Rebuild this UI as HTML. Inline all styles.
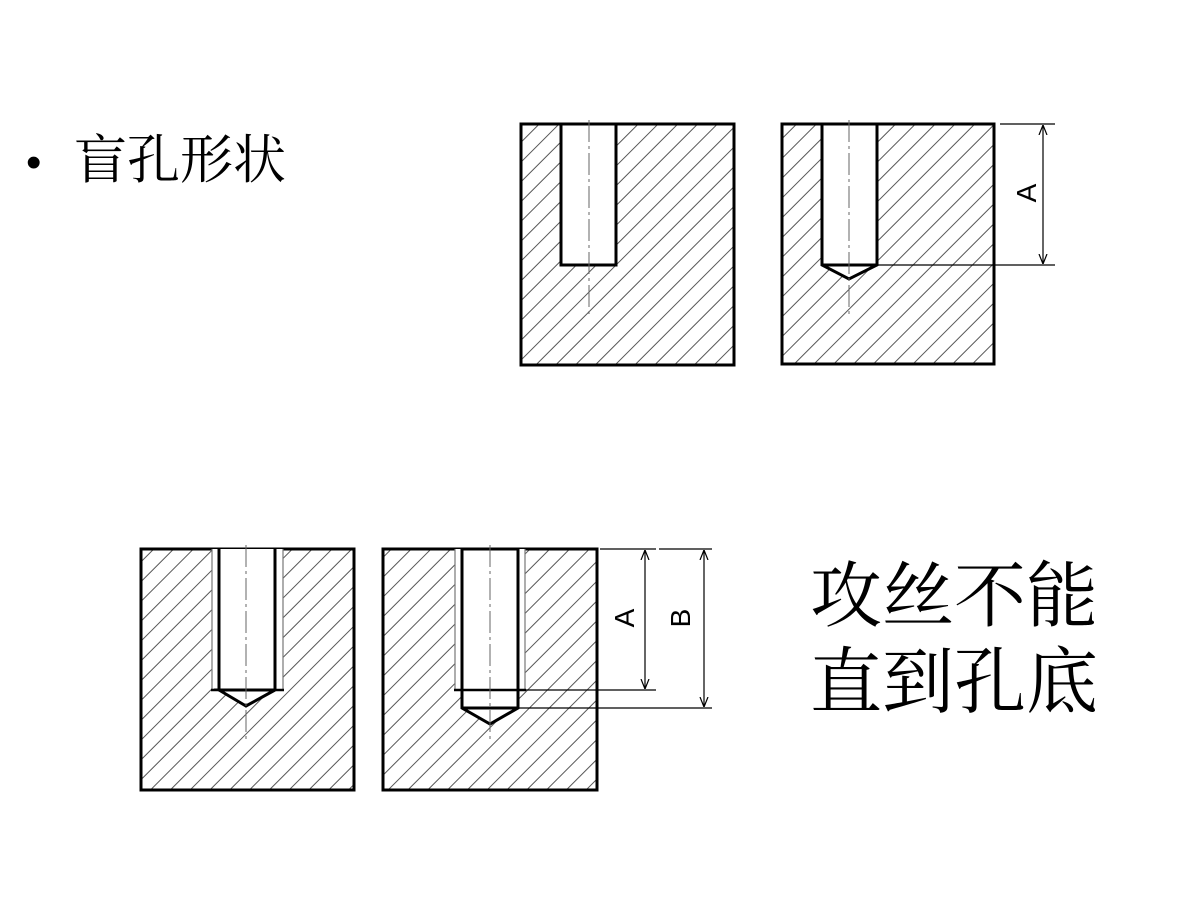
<!DOCTYPE html>
<html><head><meta charset="utf-8"><style>html,body{margin:0;padding:0;background:#fff}svg{display:block}</style></head>
<body>
<svg width="1200" height="900" viewBox="0 0 1200 900" xmlns="http://www.w3.org/2000/svg">
<defs>
<pattern id="h" width="14" height="14" patternUnits="userSpaceOnUse" patternTransform="rotate(45)">
<line x1="7" y1="-1" x2="7" y2="15" stroke="#444" stroke-width="0.9"/>
</pattern>
<marker id="a" viewBox="0 0 10 10" refX="10" refY="5" markerWidth="10" markerHeight="10" orient="auto-start-reverse" markerUnits="userSpaceOnUse">
<path d="M0,1 L10,5 L0,9" fill="none" stroke="#000" stroke-width="1.2"/>
</marker>
</defs>
<g font-family="'Liberation Serif','Noto Serif CJK SC',serif" fill="#000">
<text x="26" y="177" font-size="44" font-family="'Liberation Sans',sans-serif">•</text>
<text x="74" y="178" font-size="53">盲孔形状</text>
<text x="810" y="621" font-size="72">攻丝不能</text>
<text x="810" y="707" font-size="72">直到孔底</text>
</g>

<!-- Top-left -->
<rect x="521" y="124" width="213" height="241" fill="url(#h)" stroke="#000" stroke-width="3"/>
<rect x="561" y="124" width="55" height="141" fill="#fff" stroke="#000" stroke-width="3"/>
<line x1="589" y1="120" x2="589" y2="315" stroke="#666" stroke-width="1" stroke-dasharray="22,4,3,4"/>

<!-- Top-right -->
<rect x="782" y="124" width="212" height="240" fill="url(#h)" stroke="#000" stroke-width="3"/>
<path d="M822,124 V265 L849,279 L877,265 V124 Z" fill="#fff" stroke="#000" stroke-width="3"/>
<line x1="822" y1="265" x2="877" y2="265" stroke="#000" stroke-width="3"/>
<line x1="849" y1="120" x2="849" y2="315" stroke="#666" stroke-width="1" stroke-dasharray="22,4,3,4"/>
<line x1="1000" y1="124" x2="1055" y2="124" stroke="#000" stroke-width="1.2"/>
<line x1="877" y1="265" x2="1055" y2="265" stroke="#000" stroke-width="1.2"/>
<line x1="1043" y1="125" x2="1043" y2="264" stroke="#000" stroke-width="1.2" marker-start="url(#a)" marker-end="url(#a)"/>
<text transform="translate(1036,193) rotate(-90)" text-anchor="middle" font-family="'Liberation Sans',sans-serif" font-size="28">A</text>

<!-- Bottom-left -->
<rect x="141" y="549" width="213" height="241" fill="url(#h)" stroke="#000" stroke-width="3"/>
<rect x="212" y="549" width="71" height="141" fill="#fff"/>
<path d="M219,690 L246,706 L275,690 Z" fill="#fff" stroke="#000" stroke-width="3"/>
<line x1="212" y1="549" x2="212" y2="690" stroke="#777" stroke-width="1.2"/>
<line x1="283" y1="549" x2="283" y2="690" stroke="#777" stroke-width="1.2"/>
<line x1="219" y1="549" x2="219" y2="690" stroke="#000" stroke-width="3"/>
<line x1="275" y1="549" x2="275" y2="690" stroke="#000" stroke-width="3"/>
<line x1="211" y1="690" x2="284" y2="690" stroke="#000" stroke-width="2.5"/>
<line x1="246" y1="545" x2="246" y2="740" stroke="#666" stroke-width="1" stroke-dasharray="22,4,3,4"/>

<!-- Bottom-right -->
<rect x="383" y="549" width="214" height="241" fill="url(#h)" stroke="#000" stroke-width="3"/>
<rect x="455" y="549" width="70" height="141" fill="#fff"/>
<path d="M462,549 V708 L490,724 L518,708 V549 Z" fill="#fff" stroke="#000" stroke-width="3"/>
<line x1="462" y1="708" x2="518" y2="708" stroke="#000" stroke-width="3"/>
<line x1="455" y1="549" x2="455" y2="690" stroke="#777" stroke-width="1.2"/>
<line x1="525" y1="549" x2="525" y2="690" stroke="#777" stroke-width="1.2"/>
<line x1="454" y1="690" x2="526" y2="690" stroke="#000" stroke-width="2.5"/>
<line x1="490" y1="545" x2="490" y2="740" stroke="#666" stroke-width="1" stroke-dasharray="22,4,3,4"/>
<line x1="600" y1="549" x2="656" y2="549" stroke="#000" stroke-width="1.2"/>
<line x1="526" y1="690" x2="656" y2="690" stroke="#000" stroke-width="1.2"/>
<line x1="645" y1="550" x2="645" y2="689" stroke="#000" stroke-width="1.2" marker-start="url(#a)" marker-end="url(#a)"/>
<line x1="659" y1="549" x2="712" y2="549" stroke="#000" stroke-width="1.2"/>
<line x1="518" y1="708" x2="712" y2="708" stroke="#000" stroke-width="1.2"/>
<line x1="704" y1="550" x2="704" y2="707" stroke="#000" stroke-width="1.2" marker-start="url(#a)" marker-end="url(#a)"/>
<text transform="translate(634,618) rotate(-90)" text-anchor="middle" font-family="'Liberation Sans',sans-serif" font-size="28">A</text>
<text transform="translate(690,618) rotate(-90)" text-anchor="middle" font-family="'Liberation Sans',sans-serif" font-size="28">B</text>
</svg>
</body></html>
